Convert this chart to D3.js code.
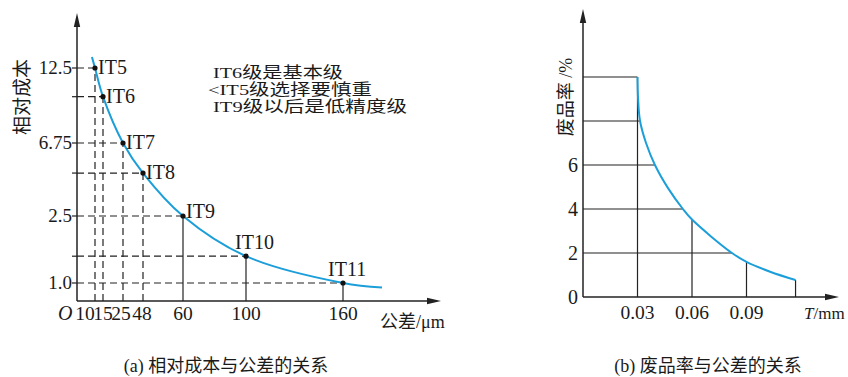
<!DOCTYPE html>
<html>
<head>
<meta charset="utf-8">
<script src="https://cdn.jsdelivr.net/npm/d3@7/dist/d3.min.js"></script>
<style>
  html, body { margin: 0; padding: 0; background: #fff; }
  svg { display: block; }
</style>
</head>
<body>
<svg id="chart" width="848" height="377"></svg>
<script>
// ---------- data: (a) relative cost vs tolerance ----------
const gradeLabels    = ["IT5", "IT6", "IT7", "IT8", "IT9", "IT10", "IT11"];
const gradeTolerance = [10, 15, 25, 48, 60, 100, 160];          // µm
const gradeCost      = [12.5, 10.3, 6.75, 5.0, 2.5, 1.6, 1.0];  // relative cost
const toleranceTicks = [10, 15, 25, 48, 60, 100, 160];
const costTicks      = [1.0, 2.5, 6.75, 12.5];
const costTickLabels = ["1.0", "2.5", "6.75", "12.5"];
const costCurveTol   = [8.3, 10, 15, 25, 48, 60, 100, 160, 184];
const costCurveVal   = [13.35, 12.5, 10.3, 6.75, 5.0, 2.5, 1.6, 1.0, 0.75];
const noteLines      = ["IT6级是基本级", "<IT5级选择要慎重", "IT9级以后是低精度级"];

// ---------- data: (b) scrap rate vs tolerance ----------
const scrapT      = [0.03, 0.0303, 0.0314, 0.0347, 0.0396, 0.0468, 0.055, 0.06, 0.082, 0.09, 0.103, 0.117]; // mm
const scrapRate   = [10,   9.05,   8,      7.0,    6,      4.95,   4,     3.52, 2,     1.6,  1.15,  0.77];  // %
const scrapYTicks = [0, 2, 4, 6];
const scrapXTicks = [0.03, 0.06, 0.09];
const scrapHLevels = [10, 8, 6, 4, 2];
const scrapVLevels = [0.03, 0.06, 0.09, 0.117];

const svg = d3.select("#chart");
const ink = "#222";
const blue = "#1c9fd9";
const FONT = "'Liberation Serif', 'Times New Roman', 'DejaVu Serif', 'Noto Sans CJK SC', serif";

function txt(g, s, size) {
  return g.append("text").text(s)
    .attr("font-family", FONT).attr("font-size", size).attr("fill", "#1a1a1a");
}

function arrow(g, x, y, dir) {
  const p = dir === "up"
    ? [[x, y], [x - 3.2, y + 14], [x + 3.2, y + 14]]
    : [[x, y], [x - 14, y - 3.2], [x - 14, y + 3.2]];
  g.append("path").attr("d", d3.line()(p) + "Z").attr("fill", ink);
}

// ================= (a) =================
const xA = d3.scaleLinear()
  .domain([0, 10, 15, 25, 48, 60, 100, 160, 200])
  .range([77, 95, 103, 123, 143, 183, 246, 343, 408]);
const yA = d3.scaleLinear()
  .domain([0, 1, 2.5, 6.75, 12.5, 15])
  .range([301, 283, 216, 143, 68, 35.5]);

const gA = svg.append("g");
const x0 = xA(0), y0 = yA(0);

gradeTolerance.forEach((t, i) => {
  const px = xA(t), py = yA(gradeCost[i]);
  gA.append("line").attr("x1", x0).attr("x2", px).attr("y1", py).attr("y2", py)
    .attr("stroke", ink).attr("stroke-width", 1.2).attr("stroke-dasharray", "7,4");
  gA.append("line").attr("x1", px).attr("x2", px).attr("y1", y0).attr("y2", py)
    .attr("stroke", ink).attr("stroke-width", 1.2)
    .attr("stroke-dasharray", i >= 4 ? null : "7,4");
  gA.append("line").attr("x1", x0 - 5).attr("x2", x0).attr("y1", py).attr("y2", py)
    .attr("stroke", ink).attr("stroke-width", 1.2);
});

gA.append("line").attr("x1", x0).attr("x2", x0).attr("y1", y0).attr("y2", 20)
  .attr("stroke", ink).attr("stroke-width", 1.5);
arrow(gA, x0, 13, "up");
gA.append("line").attr("x1", x0).attr("x2", 434).attr("y1", y0).attr("y2", y0)
  .attr("stroke", ink).attr("stroke-width", 1.5);
arrow(gA, 441, y0, "right");

gA.append("path")
  .datum(costCurveTol.map((t, i) => [t, costCurveVal[i]]))
  .attr("d", d3.line().x(d => xA(d[0])).y(d => yA(d[1])).curve(d3.curveCatmullRom.alpha(0.5)))
  .attr("fill", "none").attr("stroke", blue).attr("stroke-width", 2);

gradeTolerance.forEach((t, i) => {
  const px = xA(t), py = yA(gradeCost[i]);
  gA.append("circle").attr("cx", px).attr("cy", py).attr("r", 2.6).attr("fill", "#111");
  const lab = txt(gA, gradeLabels[i], 20);
  if (i < 5) {
    lab.attr("x", px + 3).attr("y", py + (i === 4 ? 2 : 6));
  } else {
    lab.attr("x", px - (i === 5 ? 11 : 15)).attr("y", py - 7);
  }
});

costTicks.forEach((v, i) => {
  txt(gA, costTickLabels[i], 19).attr("x", 72).attr("y", yA(v) + 6).attr("text-anchor", "end");
});
toleranceTicks.forEach((v, i) => {
  const dx = i === 0 ? -10 : (i === 2 ? -2 : (i === 3 ? -1 : 0));
  txt(gA, String(v), 19.5).attr("x", xA(v) + dx).attr("y", 320).attr("text-anchor", "middle");
});
txt(gA, "O", 20).attr("x", 58).attr("y", 320).attr("font-style", "italic");
txt(gA, "公差/μm", 18).attr("x", 380).attr("y", 328);

txt(gA, "相对成本", 19)
  .attr("transform", "translate(29,97) rotate(-90)").attr("text-anchor", "middle");

const noteWidths = [130, 164, 194];
noteLines.forEach((s, i) => {
  txt(gA, s, 15.5)
    .attr("x", i === 1 ? 208 : 213).attr("y", 78 + i * 17)
    .attr("textLength", noteWidths[i]).attr("lengthAdjust", "spacingAndGlyphs");
});

txt(svg, "(a) 相对成本与公差的关系", 18)
  .attr("x", 226).attr("y", 372).attr("text-anchor", "middle");

// ================= (b) =================
const xB = d3.scaleLinear().domain([0, 0.12]).range([583, 801]);
const yB = d3.scaleLinear().domain([0, 10]).range([297, 77]);
const gB = svg.append("g");
const bx0 = xB(0), by0 = yB(0);

scrapHLevels.forEach(v => {
  const i = scrapRate.indexOf(v);
  gB.append("line").attr("x1", bx0).attr("x2", xB(scrapT[i])).attr("y1", yB(v)).attr("y2", yB(v))
    .attr("stroke", ink).attr("stroke-width", 1.2);
});
scrapVLevels.forEach(t => {
  const i = scrapT.indexOf(t);
  gB.append("line").attr("x1", xB(t)).attr("x2", xB(t)).attr("y1", by0).attr("y2", yB(scrapRate[i]))
    .attr("stroke", ink).attr("stroke-width", 1.2);
});

gB.append("line").attr("x1", bx0).attr("x2", bx0).attr("y1", by0).attr("y2", 16)
  .attr("stroke", ink).attr("stroke-width", 1.5);
arrow(gB, bx0, 9, "up");
gB.append("line").attr("x1", bx0).attr("x2", 832).attr("y1", by0).attr("y2", by0)
  .attr("stroke", ink).attr("stroke-width", 1.5);
arrow(gB, 839, by0, "right");

gB.append("path")
  .datum(scrapT.map((t, i) => [t, scrapRate[i]]))
  .attr("d", d3.line().x(d => xB(d[0])).y(d => yB(d[1])).curve(d3.curveCatmullRom.alpha(0.5)))
  .attr("fill", "none").attr("stroke", blue).attr("stroke-width", 2);

scrapYTicks.forEach(v => {
  txt(gB, String(v), 20).attr("x", 578).attr("y", yB(v) + 7).attr("text-anchor", "end");
});
scrapXTicks.forEach(v => {
  txt(gB, v.toFixed(2), 19.5).attr("x", xB(v)).attr("y", 319).attr("text-anchor", "middle");
});
const tl = txt(gB, "", 17).attr("x", 804).attr("y", 319);
tl.append("tspan").text("T").attr("font-style", "italic");
tl.append("tspan").text("/mm");

txt(gB, "废品率 /%", 18)
  .attr("transform", "translate(572,97) rotate(-90)").attr("text-anchor", "middle");

txt(svg, "(b) 废品率与公差的关系", 18)
  .attr("x", 708).attr("y", 372).attr("text-anchor", "middle");
</script>
</body>
</html>
